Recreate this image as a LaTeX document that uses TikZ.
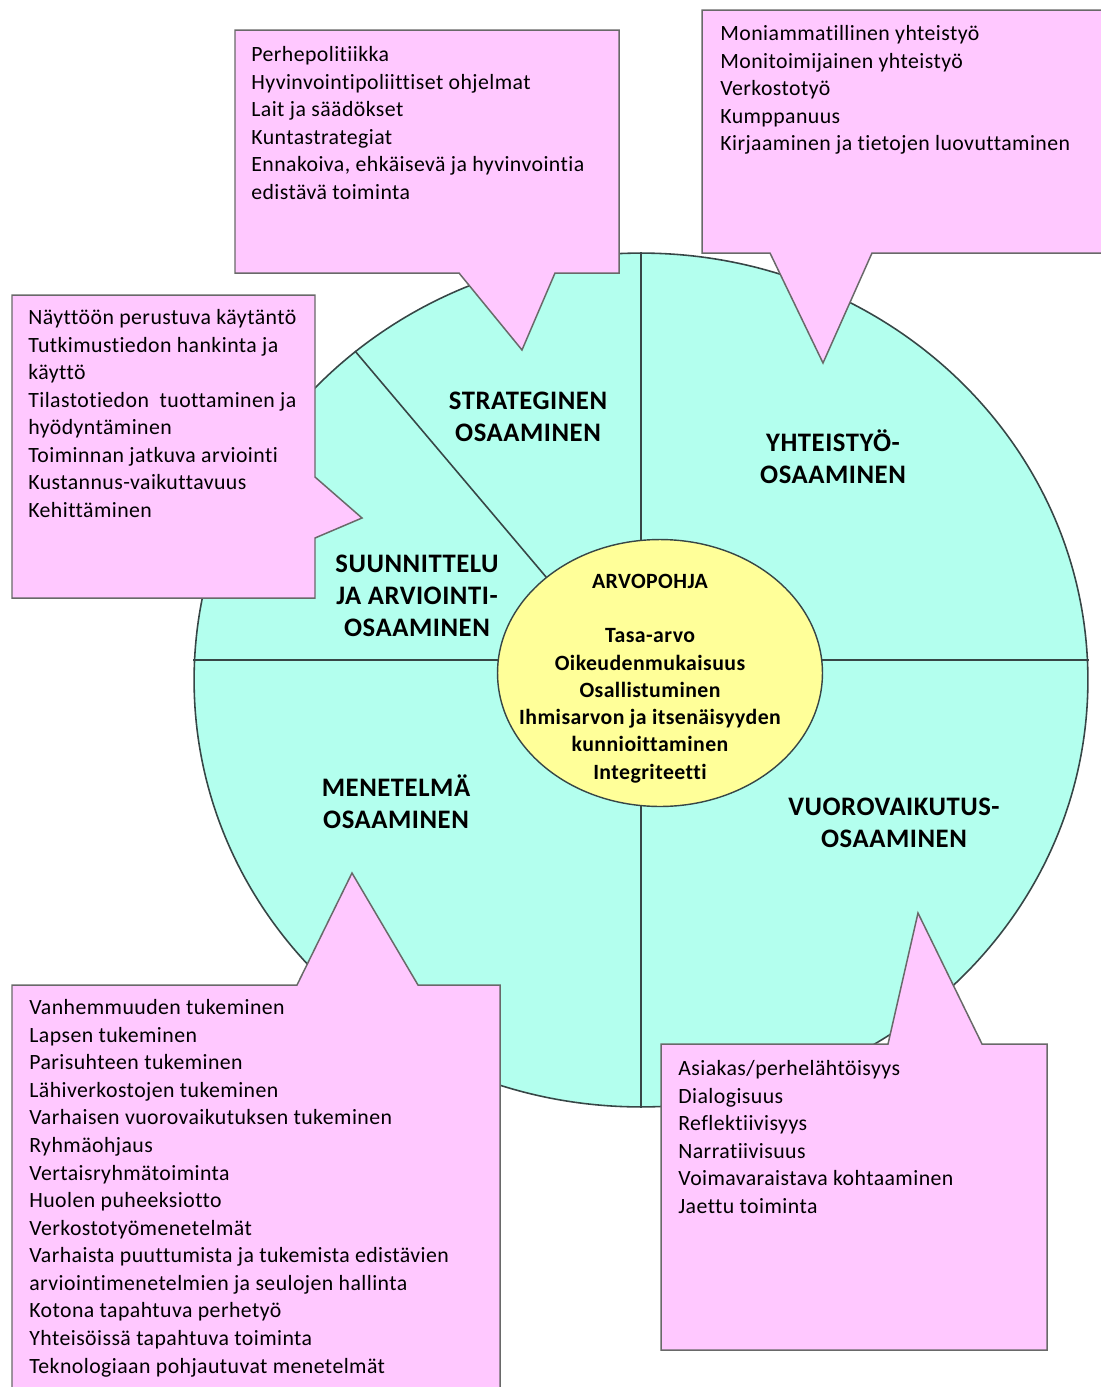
\documentclass[tikz,border=0pt]{standalone}
\usepackage{fontspec}
\setmainfont{Carlito}
\newfontfamily\wheelfont[LetterSpace=2, Ligatures=NoCommon]{Carlito}
\usetikzlibrary{positioning, shapes.geometric}

\definecolor{wheelfill}{RGB}{179,255,238}
\definecolor{notefill}{RGB}{255,200,255}
\definecolor{corefill}{RGB}{255,255,153}
\definecolor{wheelline}{RGB}{55,70,70}
\definecolor{noteline}{RGB}{105,105,105}

\begin{document}
\begin{tikzpicture}[x=0.02cm, y=-0.02cm,
    divider/.style={draw=wheelline, line width=0.9pt},
    note/.style={draw=noteline, line width=0.85pt, fill=notefill, line join=miter},
    notetext/.style={anchor=north west, align=left, inner sep=0pt, font=\wheelfont\fontsize{12.4}{15.7}\selectfont},
    sector/.style={align=center, inner sep=0pt, font=\wheelfont\fontsize{15.2}{18.3}\selectfont\bfseries},
    coretext/.style={align=center, inner sep=0pt, font=\wheelfont\fontsize{12.4}{15.5}\selectfont\bfseries}
  ]
  \useasboundingbox (0,0) rectangle (1100,1387);

  % Outer wheel
  \node[ellipse, draw=wheelline, line width=0.9pt, fill=wheelfill, minimum width=17.88cm, minimum height=17.08cm, inner sep=0pt] (wheel) at (641,680) {};

  % Sector dividers
  \draw[divider] (wheel.north) -- (wheel.south);
  \draw[divider] ([yshift=0.4cm]wheel.west) -- ([yshift=0.4cm]wheel.east);
  \draw[divider] (wheel.131) -- (552,584);

  % Value base in the middle
  \node[ellipse, draw=wheelline, line width=0.8pt, fill=corefill, minimum width=6.5cm, minimum height=5.34cm, inner sep=0pt] (core) at (660,673) {};
  \node[coretext] (core-text) at (650,678.5) {ARVOPOHJA\\[15.5pt]Tasa-arvo\\Oikeudenmukaisuus\\Osallistuminen\\Ihmisarvon ja itsenäisyyden\\kunnioittaminen\\Integriteetti};

  % Sector labels
  \node[sector] (strat-label) at (528,417) {STRATEGINEN\\OSAAMINEN};
  \node[sector] (coop-label) at (833,457) {YHTEISTYÖ-\\OSAAMINEN};
  \node[sector] (plan-label) at (417,596) {SUUNNITTELU\\JA ARVIOINTI-\\OSAAMINEN};
  \node[sector] (method-label) at (396,802) {MENETELMÄ\\OSAAMINEN};
  \node[sector] (interact-label) at (894,823) {VUOROVAIKUTUS-\\OSAAMINEN};

  % Callout: strategic
  \draw[note] (235,30) -- (619,30) -- (619,273) -- (555,273) -- (522,350) -- (459,273) -- (235,273) -- cycle;
  \node[notetext] (strat-list) at (251,46) {Perhepolitiikka\\Hyvinvointipoliittiset ohjelmat\\Lait ja säädökset\\Kuntastrategiat\\Ennakoiva, ehkäisevä ja hyvinvointia\\edistävä toiminta};

  % Callout: cooperation (runs off the right edge)
  \draw[note] (1101,10) -- (702,10) -- (702,253) -- (770,253) -- (823,363) -- (872,253) -- (1101,253);
  \node[notetext] (coop-list) at (720,25) {Moniammatillinen yhteistyö\\Monitoimijainen yhteistyö\\Verkostotyö\\Kumppanuus\\Kirjaaminen ja tietojen luovuttaminen};

  % Callout: planning and evaluation
  \draw[note] (12,295) -- (315,295) -- (315,477) -- (362,518) -- (315,538) -- (315,598) -- (12,598) -- cycle;
  \node[notetext] (plan-list) at (28,309) {Näyttöön perustuva käytäntö\\Tutkimustiedon hankinta ja\\käyttö\\Tilastotiedon\ \ tuottaminen ja\\hyödyntäminen\\Toiminnan jatkuva arviointi\\Kustannus-vaikuttavuus\\Kehittäminen};

  % Callout: methods (runs off the bottom edge)
  \draw[note] (12,1388) -- (12,985) -- (297,985) -- (352,873) -- (418,985) -- (500,985) -- (500,1388);
  \node[notetext] (method-list) at (29,999) {Vanhemmuuden tukeminen\\Lapsen tukeminen\\Parisuhteen tukeminen\\Lähiverkostojen tukeminen\\Varhaisen vuorovaikutuksen tukeminen\\Ryhmäohjaus\\Vertaisryhmätoiminta\\Huolen puheeksiotto\\Verkostotyömenetelmät\\Varhaista puuttumista ja tukemista edistävien\\arviointimenetelmien ja seulojen hallinta\\Kotona tapahtuva perhetyö\\Yhteisöissä tapahtuva toiminta\\Teknologiaan pohjautuvat menetelmät};

  % Callout: interaction
  \draw[note] (661,1044) -- (888,1044) -- (918,913) -- (982,1044) -- (1047,1044) -- (1047,1350) -- (661,1350) -- cycle;
  \node[notetext] (interact-list) at (678,1060) {Asiakas/perhelähtöisyys\\Dialogisuus\\Reflektiivisyys\\Narratiivisuus\\Voimavaraistava kohtaaminen\\Jaettu toiminta};
\end{tikzpicture}
\end{document}
